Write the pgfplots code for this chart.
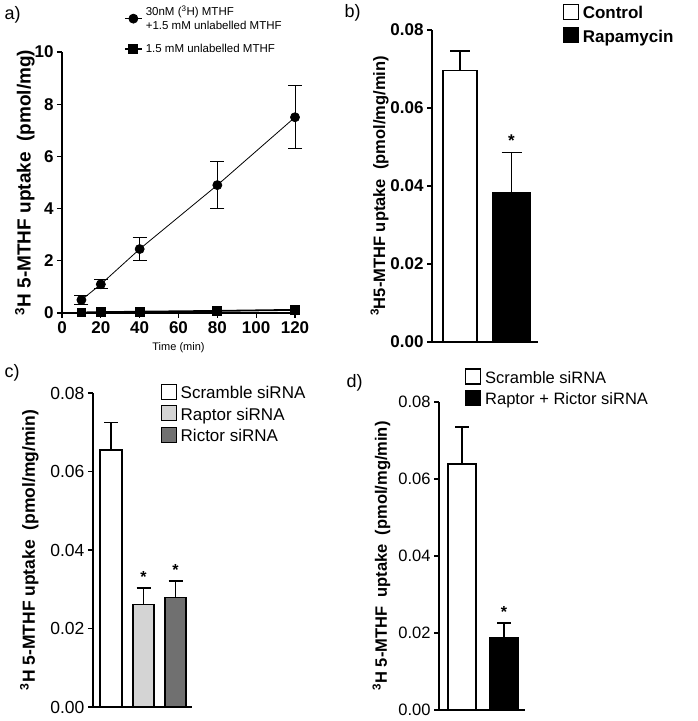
\documentclass[border=0pt]{standalone}
\usepackage{fontspec}
\setmainfont{Liberation Sans}
\usepackage{pgfplots}
\pgfplotsset{compat=1.18}
\definecolor{raptorc}{HTML}{D4D4D4}
\definecolor{rictorc}{HTML}{707070}
\pgfplotsset{
  gp/.style={scale only axis, axis x line=bottom, axis y line=left,
    axis line style={-, line width=1.3pt}, tick align=outside,
    major tick length=5pt, tick style={line width=1.3pt, black},
    /pgf/number format/assume math mode=true, clip=false},
  barax/.style={gp, ybar, xmin=0, ymin=0, ymax=0.08, xtick=\empty,
    ytick={0,0.02,0.04,0.06,0.08}, scaled y ticks=false,
    yticklabel style={/pgf/number format/fixed, /pgf/number format/fixed zerofill, /pgf/number format/precision=2},
    legend image code/.code={\draw[##1, line width=1.2pt] (0pt,-6pt) rectangle (15pt,9pt);},
    legend cell align=left,
    legend style={draw=none, fill=none, anchor=north west, inner sep=0pt, row sep=3pt,
      nodes={inner xsep=4pt}}},
  bplot/.style={bar shift=0pt, draw=black, line width=1.2pt,
    error bars/.cd, y dir=plus, y explicit, error mark=-,
    error bar style={line width=1.2pt, black},
    error mark options={rotate=90, mark size=#1, line width=1.2pt, black}},
}
\begin{document}
\begin{tikzpicture}
\path[use as bounding box] (0,0) rectangle (697pt,721pt);
% panel labels
\node[font=\fontsize{18}{20}\selectfont, anchor=west] at (1pt,706pt) {a)};
\node[font=\fontsize{18}{20}\selectfont, anchor=west] at (341pt,708pt) {b)};
\node[font=\fontsize{18}{20}\selectfont, anchor=west] at (1pt,348pt) {c)};
\node[font=\fontsize{18}{20}\selectfont, anchor=west] at (343pt,338pt) {d)};
% ---------------- panel a
\begin{axis}[gp, at={(62pt,408pt)}, anchor=south west, width=233pt, height=261pt,
  xmin=0, xmax=120, ymin=0, ymax=10,
  xtick={0,20,40,60,80,100,120}, ytick={0,2,4,6,8,10},
  tick label style={font=\bfseries\fontsize{17}{19}\selectfont},
  xlabel={Time (min)}, xlabel style={font=\fontsize{11}{12}\selectfont, yshift=-2pt},
  ylabel={\textsuperscript{3}H 5-MTHF uptake\ \ (pmol/mg)},
  ylabel style={font=\bfseries\fontsize{19}{21}\selectfont, yshift=-7pt},
  legend cell align=left,
  legend style={draw=none, fill=none, at={(0.265,1.185)}, anchor=north west,
    font=\fontsize{11.5}{14}\selectfont, inner sep=0pt, row sep=9pt,
    nodes={align=left, inner xsep=3pt}}]
\addplot[black, line width=0.8pt, mark=*, mark size=4.5pt,
  error bars/.cd, y dir=both, y explicit, error mark=-,
  error bar style={line width=1pt, black},
  error mark options={rotate=90, mark size=7pt, line width=1pt, black}]
  coordinates {(10,0.5) +- (0,0.18) (20,1.1) +- (0,0.17) (40,2.45) +- (0,0.45)
               (80,4.9) +- (0,0.9) (120,7.5) +- (0,1.2)};
\addlegendentry{30nM (\textsuperscript{3}H) MTHF\\+1.5 mM unlabelled MTHF}
\addplot[black, line width=1.8pt, mark=square*, mark size=4pt]
  coordinates {(10,0.02) (20,0.03) (40,0.05) (80,0.08) (120,0.12)};
\addlegendentry{1.5 mM unlabelled MTHF}
\end{axis}
% ---------------- panel b
\begin{axis}[barax, at={(432pt,379pt)}, anchor=south west, width=106pt, height=312pt,
  xmax=106,
  tick label style={font=\bfseries\fontsize{17}{19}\selectfont},
  ylabel={\textsuperscript{3}H5-MTHF uptake\ \ (pmol/mg/min)},
  ylabel style={font=\bfseries\fontsize{16.5}{19}\selectfont, yshift=-5pt},
  legend style={at={(1.23,1.085)}, font=\bfseries\fontsize{17}{19}\selectfont, row sep=5pt}]
\addplot[fill=white, bar width=34pt, bplot=10pt] coordinates {(28,0.0697) +- (0,0.0049)};
\addlegendentry{Control}
\addplot[fill=black, bar width=37pt, bplot=10pt] coordinates {(79.5,0.0382) +- (0,0.0103)};
\addlegendentry{Rapamycin}
\node[font=\bfseries\fontsize{17}{18}\selectfont] at (axis cs:79.5,0.0515) {*};
\end{axis}
% ---------------- panel c
\begin{axis}[barax, at={(93pt,14pt)}, anchor=south west, width=99pt, height=314pt,
  xmax=99,
  tick label style={font=\fontsize{17.5}{19}\selectfont},
  ylabel={\textsuperscript{3}H 5-MTHF uptake\ \ (pmol/mg/min)},
  ylabel style={font=\bfseries\fontsize{17.5}{19}\selectfont, yshift=5pt},
  legend style={at={(0.68,1.03)}, font=\fontsize{17}{19}\selectfont}]
\addplot[fill=white, bar width=22pt, bplot=7pt] coordinates {(18,0.0655) +- (0,0.0069)};
\addlegendentry{Scramble siRNA}
\addplot[fill=raptorc, bar width=21pt, bplot=7pt] coordinates {(50.5,0.0262) +- (0,0.0041)};
\addlegendentry{Raptor siRNA}
\addplot[fill=rictorc, bar width=21pt, bplot=7pt] coordinates {(82.5,0.0278) +- (0,0.0043)};
\addlegendentry{Rictor siRNA}
\node[font=\bfseries\fontsize{16}{17}\selectfont] at (axis cs:50.5,0.0332) {*};
\node[font=\bfseries\fontsize{16}{17}\selectfont] at (axis cs:82.5,0.0350) {*};
\end{axis}
% ---------------- panel d
\begin{axis}[barax, at={(439pt,11pt)}, anchor=south west, width=86pt, height=308pt,
  xmax=86,
  tick label style={font=\fontsize{16.5}{19}\selectfont},
  ylabel={\textsuperscript{3}H 5-MTHF\ \ uptake\ \ (pmol/mg/min)},
  ylabel style={font=\bfseries\fontsize{16.5}{19}\selectfont, yshift=1pt},
  legend style={at={(0.30,1.11)}, font=\fontsize{16.5}{19}\selectfont}]
\addplot[fill=white, bar width=28pt, bplot=7pt] coordinates {(23,0.0639) +- (0,0.0096)};
\addlegendentry{Scramble siRNA}
\addplot[fill=black, bar width=28pt, bplot=7pt] coordinates {(65,0.0187) +- (0,0.0039)};
\addlegendentry{Raptor + Rictor siRNA}
\node[font=\bfseries\fontsize{16}{17}\selectfont] at (axis cs:65,0.0255) {*};
\end{axis}
\end{tikzpicture}
\end{document}
